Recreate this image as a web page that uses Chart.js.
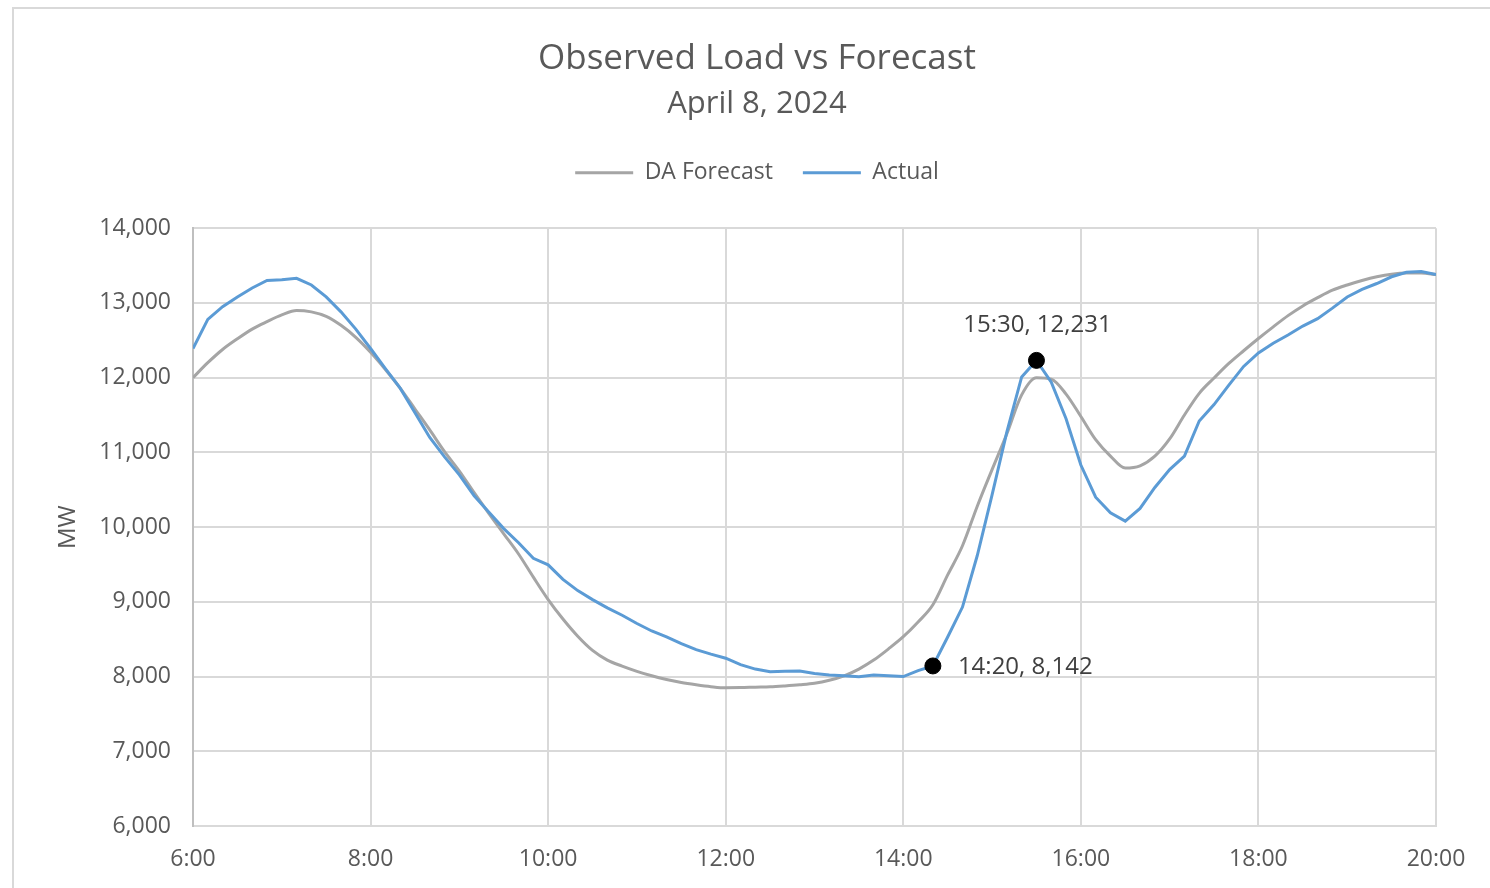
<!DOCTYPE html>
<html>
<head>
<meta charset="utf-8">
<script src="https://cdn.jsdelivr.net/npm/chart.js@4"></script>
<style>
  html, body { margin: 0; padding: 0; background: #fff; }
  #wrap { position: relative; width: 1490px; height: 888px; overflow: hidden; }
  #frame { position: absolute; left: 12px; top: 7px; width: 1600px; height: 1000px;
           border-left: 2px solid #d9d9d9; border-top: 2px solid #d9d9d9; }
  canvas { position: absolute; left: 0; top: 0; }
</style>
</head>
<body>
<div id="wrap">
  <div id="frame"></div>
  <canvas id="loadChart" width="1490" height="888"></canvas>
</div>
<script>
const times = [
  "6:00","6:10","6:20","6:30","6:40","6:50","7:00","7:10","7:20","7:30","7:40","7:50",
  "8:00","8:10","8:20","8:30","8:40","8:50","9:00","9:10","9:20","9:30","9:40","9:50",
  "10:00","10:10","10:20","10:30","10:40","10:50","11:00","11:10","11:20","11:30","11:40","11:50",
  "12:00","12:10","12:20","12:30","12:40","12:50","13:00","13:10","13:20","13:30","13:40","13:50",
  "14:00","14:10","14:20","14:30","14:40","14:50","15:00","15:10","15:20","15:30","15:40","15:50",
  "16:00","16:10","16:20","16:30","16:40","16:50","17:00","17:10","17:20","17:30","17:40","17:50",
  "18:00","18:10","18:20","18:30","18:40","18:50","19:00","19:10","19:20","19:30","19:40","19:50",
  "20:00"
];

const forecastMW = [
  12000, 12200, 12377, 12520, 12650, 12750, 12840, 12899, 12880, 12820, 12700, 12540,
  12340, 12110, 11860, 11580, 11300, 11010, 10750, 10460, 10180, 9910, 9640, 9330,
  9030, 8770, 8540, 8350, 8220, 8140, 8070, 8010, 7960, 7920, 7890, 7865,
  7850, 7852, 7858, 7863, 7875, 7890, 7910, 7950, 8010, 8100, 8220, 8370,
  8533, 8730, 8960, 9360, 9750, 10280, 10770, 11250, 11770, 12000, 11980, 11780,
  11480, 11170, 10950, 10790, 10820, 10950, 11180, 11500, 11790, 11995, 12190, 12360,
  12524, 12680, 12830, 12960, 13070, 13170, 13240, 13300, 13350, 13385, 13400, 13400,
  13380
];

const actualMW = [
  12390, 12780, 12950, 13080, 13200, 13300, 13310, 13330, 13240, 13080, 12880, 12650,
  12390, 12120, 11860, 11530, 11200, 10940, 10700, 10420, 10200, 9980, 9790, 9583,
  9495, 9300, 9150, 9030, 8920, 8820, 8710, 8610, 8530, 8440, 8360, 8300,
  8245, 8160, 8100, 8064, 8070, 8073, 8040, 8020, 8010, 7997, 8020, 8010,
  8000, 8080, 8142, 8530, 8930, 9620, 10430, 11275, 12010, 12231, 11940, 11450,
  10830, 10400, 10190, 10080, 10250, 10530, 10770, 10950, 11420, 11640, 11900, 12150,
  12331, 12460, 12570, 12690, 12790, 12930, 13080, 13180, 13260, 13350, 13410, 13420,
  13380
];

const markerTimes = ["14:20", "15:30"];
const markerMW = [8142, 12231];

const yTicks = [6000, 7000, 8000, 9000, 10000, 11000, 12000, 13000, 14000];
const xTickLabels = ["6:00", "8:00", "10:00", "12:00", "14:00", "16:00", "18:00", "20:00"];

function toMinutes(t) {
  const parts = t.split(":");
  return parseInt(parts[0]) * 60 + parseInt(parts[1]);
}

function fmt(n) {
  return n.toLocaleString("en-US");
}

const FONT = "'Open Sans', 'Noto Sans', sans-serif";
const TEXT = "#595959";
const GRID = "#d9d9d9";

const xTickMinutes = xTickLabels.map(toMinutes);

// labels next to the two black dots
const markerLabels = {
  id: "markerLabels",
  afterDatasetsDraw(chart) {
    const meta = chart.getDatasetMeta(0);
    const ctx = chart.ctx;
    ctx.save();
    ctx.font = "24px " + FONT;
    ctx.fillStyle = "#404040";
    ctx.textBaseline = "middle";
    meta.data.forEach((pt, i) => {
      const text = markerTimes[i] + ", " + fmt(markerMW[i]);
      if (i === 0) {
        ctx.textAlign = "left";
        ctx.fillText(text, pt.x + 25, pt.y + 1);
      } else {
        ctx.textAlign = "center";
        ctx.fillText(text, pt.x + 1, pt.y - 35);
      }
    });
    ctx.restore();
  }
};

// push the plot down below the legend
const legendGap = {
  id: "legendGap",
  beforeInit(chart) {
    const fit = chart.legend.fit;
    chart.legend.fit = function () {
      fit.bind(chart.legend)();
      this.height += 34;
    };
  }
};

new Chart(document.getElementById("loadChart"), {
  type: "line",
  data: {
    datasets: [
      {
        label: "markers",
        data: markerTimes.map((t, i) => ({ x: toMinutes(t), y: markerMW[i] })),
        showLine: false,
        pointRadius: 8,
        pointBackgroundColor: "#000",
        pointBorderColor: "#000",
        borderColor: "#000",
      },
      {
        label: "Actual",
        data: times.map((t, i) => ({ x: toMinutes(t), y: actualMW[i] })),
        borderColor: "#5B9BD5",
        backgroundColor: "#5B9BD5",
        borderWidth: 3,
        pointRadius: 0,
        tension: 0,
      },
      {
        label: "DA Forecast",
        data: times.map((t, i) => ({ x: toMinutes(t), y: forecastMW[i] })),
        borderColor: "#A5A5A5",
        backgroundColor: "#A5A5A5",
        borderWidth: 3,
        pointRadius: 0,
        cubicInterpolationMode: "monotone",
      }
    ]
  },
  options: {
    responsive: false,
    animation: false,
    events: [],
    layout: { padding: { top: 0, left: 24, right: 0, bottom: 0 } },
    plugins: {
      title: {
        display: true,
        text: "Observed Load vs Forecast",
        color: TEXT,
        font: { family: FONT, size: 35, weight: "normal" },
        padding: { top: 38, bottom: 0 }
      },
      subtitle: {
        display: true,
        text: "April 8, 2024",
        color: TEXT,
        font: { family: FONT, size: 31, weight: "normal" },
        padding: { top: 6, bottom: 8 }
      },
      legend: {
        position: "top",
        labels: {
          color: TEXT,
          font: { family: FONT, size: 23 },
          usePointStyle: true,
          pointStyle: "line",
          pointStyleWidth: 58,
          padding: 30,
          filter: (item) => item.text !== "markers",
          sort: (a, b) => b.datasetIndex - a.datasetIndex
        }
      },
      tooltip: { enabled: false }
    },
    scales: {
      x: {
        type: "linear",
        min: xTickMinutes[0],
        max: xTickMinutes[xTickMinutes.length - 1],
        afterBuildTicks: (scale) => {
          scale.ticks = xTickMinutes.map((v) => ({ value: v }));
        },
        afterFit: (scale) => {
          scale.height = 62;
          scale.paddingRight = 54;
        },
        grid: { color: GRID, lineWidth: 2, drawTicks: false },
        border: { color: GRID, width: 2 },
        ticks: {
          color: TEXT,
          font: { family: FONT, size: 23 },
          padding: 20,
          maxRotation: 0,
          callback: (v) => xTickLabels[xTickMinutes.indexOf(v)]
        }
      },
      y: {
        min: yTicks[0],
        max: yTicks[yTicks.length - 1],
        afterBuildTicks: (scale) => {
          scale.ticks = yTicks.map((v) => ({ value: v }));
        },
        afterFit: (scale) => { scale.width = 169; },
        grid: { color: GRID, lineWidth: 2, drawTicks: false },
        border: { color: "#bfbfbf", width: 2 },
        title: {
          display: true,
          text: "MW",
          color: TEXT,
          font: { family: FONT, size: 24 },
          padding: { top: 30, bottom: 0 }
        },
        ticks: {
          color: TEXT,
          font: { family: FONT, size: 23 },
          padding: 22,
          callback: (v) => fmt(v)
        }
      }
    }
  },
  plugins: [markerLabels, legendGap]
});
</script>
</body>
</html>
